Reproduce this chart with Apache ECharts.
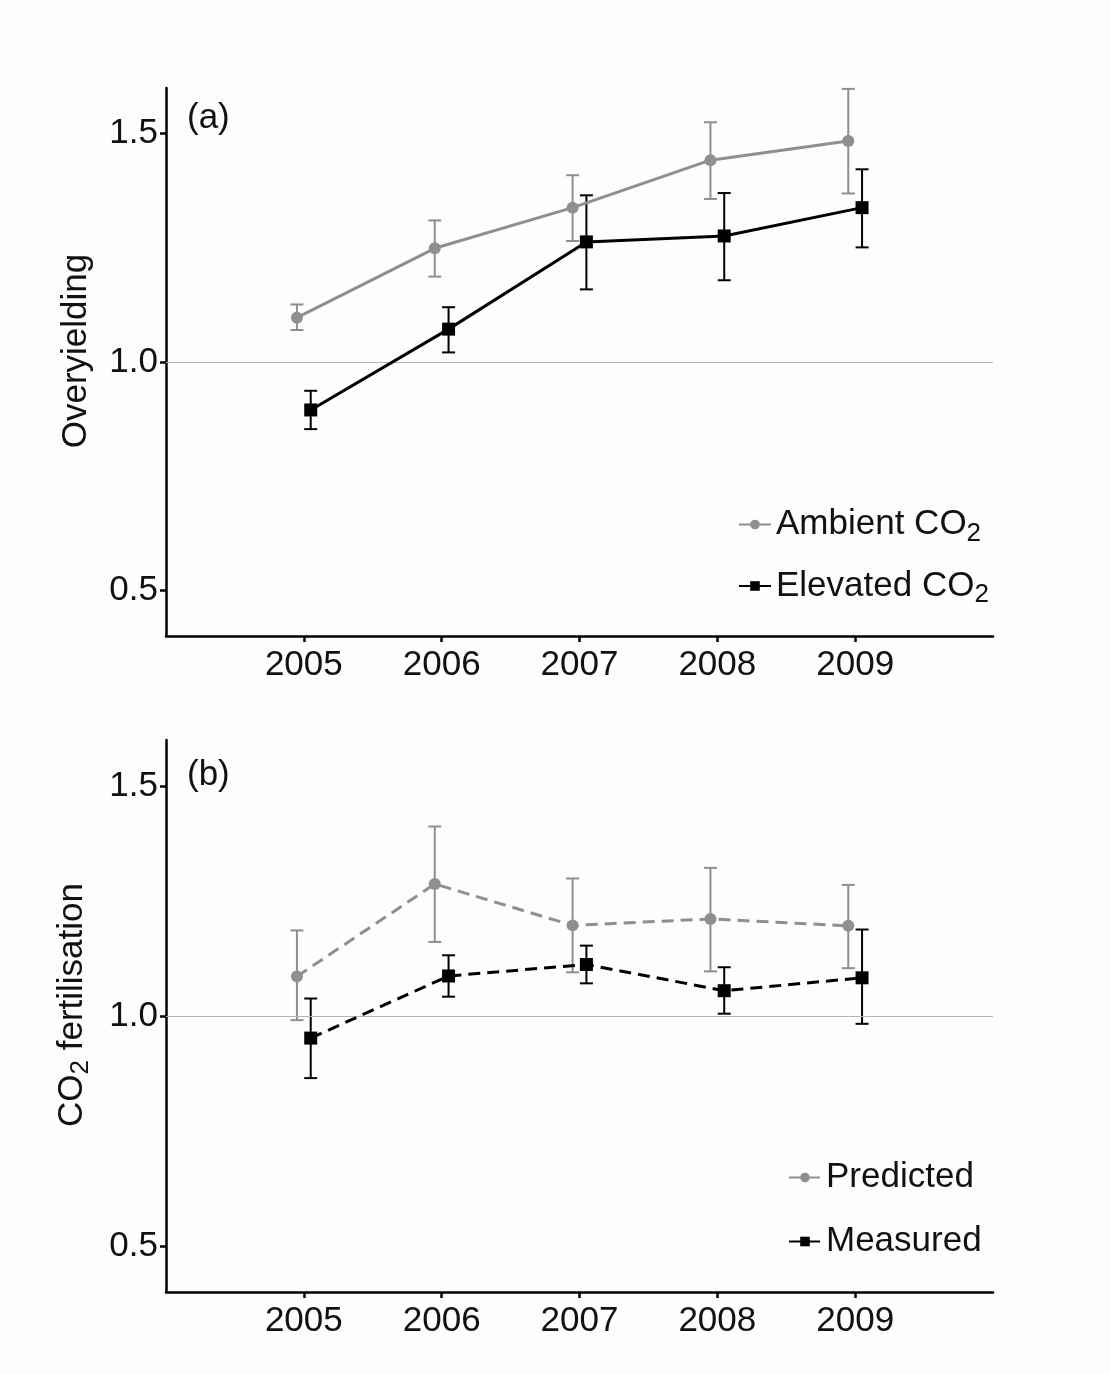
<!DOCTYPE html>
<html>

	<head>
		<meta charset="utf-8">
		<title>Overyielding and CO2 fertilisation</title>
		<script src="https://cdn.jsdelivr.net/npm/echarts@6/dist/echarts.min.js"></script>
	</head>

	<body style="margin:0;background:#fdfdfd;">
		<div id="res" style="width: 1110px;height: 1374px;"></div>
		<script>
			var years = [2005, 2006, 2007, 2008, 2009];
			var dodge = 0.05;

			// panel (a)
			var ambient = [1.097, 1.249, 1.338, 1.442, 1.484];
			var ambientLo = [1.070, 1.187, 1.265, 1.357, 1.369];
			var ambientHi = [1.126, 1.310, 1.409, 1.525, 1.598];
			var elevated = [0.895, 1.072, 1.263, 1.276, 1.338];
			var elevatedLo = [0.853, 1.021, 1.159, 1.179, 1.251];
			var elevatedHi = [0.937, 1.120, 1.365, 1.370, 1.422];

			// panel (b)
			var predicted = [1.086, 1.287, 1.197, 1.211, 1.196];
			var predictedLo = [0.991, 1.161, 1.095, 1.097, 1.104];
			var predictedHi = [1.186, 1.412, 1.299, 1.322, 1.285];
			var measured = [0.952, 1.087, 1.112, 1.055, 1.083];
			var measuredLo = [0.865, 1.042, 1.071, 1.005, 0.983];
			var measuredHi = [1.038, 1.132, 1.153, 1.106, 1.188];

			var yTicks = [0.5, 1.0, 1.5];
			var GREY = '#8f8f8f';
			var FONT = 'Liberation Sans';

			function pts(vals, off) {
				var out = [];
				for(var i = 0; i < years.length; i++) {
					out.push([years[i] + off, vals[i]]);
				}
				return out;
			}

			function bars(lo, hi, off) {
				var out = [];
				for(var i = 0; i < years.length; i++) {
					out.push([years[i] + off, lo[i], hi[i]]);
				}
				return out;
			}

			function errRender(color) {
				return function(params, api) {
					var x = api.value(0);
					var a = api.coord([x, api.value(1)]);
					var b = api.coord([x, api.value(2)]);
					var w = 6.5;
					var st = { stroke: color, lineWidth: 2 };
					return {
						type: 'group',
						children: [
							{ type: 'line', shape: { x1: a[0], y1: a[1], x2: b[0], y2: b[1] }, style: st },
							{ type: 'line', shape: { x1: a[0] - w, y1: a[1], x2: a[0] + w, y2: a[1] }, style: st },
							{ type: 'line', shape: { x1: b[0] - w, y1: b[1], x2: b[0] + w, y2: b[1] }, style: st }
						]
					};
				};
			}

			function xAxis(idx) {
				return {
					type: 'value', gridIndex: idx, min: 2004, max: 2010,
					splitLine: { show: false },
					axisLine: { lineStyle: { color: '#000', width: 2.5 } },
					axisTick: { customValues: years, length: 6, lineStyle: { color: '#000', width: 2.5 } },
					axisLabel: {
						customValues: years, formatter: function(v) { return String(v); },
						fontSize: 35, color: '#111', fontFamily: FONT, margin: 12
					}
				};
			}

			var subRich = { s: { fontSize: 26, fontFamily: FONT, color: '#111', padding: [18, 0, 0, 0] } };

			function yAxis(idx, name) {
				return {
					type: 'value', gridIndex: idx, min: 0.4, max: 1.6,
					name: name, nameLocation: 'middle', nameGap: 72,
					nameTextStyle: {
						fontSize: 35, color: '#111', fontFamily: FONT,
						padding: [0, 0, 0, 22], rich: subRich
					},
					splitLine: { show: false },
					axisLine: { show: true, lineStyle: { color: '#000', width: 2.5 } },
					axisTick: { show: true, customValues: yTicks, length: 6, lineStyle: { color: '#000', width: 2.5 } },
					axisLabel: {
						customValues: yTicks, formatter: function(v) { return v.toFixed(1); },
						fontSize: 35, color: '#111', fontFamily: FONT, margin: 8
					}
				};
			}

			function refLine() {
				return {
					silent: true, symbol: 'none', label: { show: false },
					lineStyle: { color: '#b5b5b5', width: 1.2, type: 'solid' },
					data: [{ yAxis: 1.0 }]
				};
			}

			function lineSeries(name, idx, vals, off, color, symbol, dashed, withRef) {
				var s = {
					name: name, type: 'line', xAxisIndex: idx, yAxisIndex: idx,
					data: pts(vals, off), symbol: symbol, symbolSize: symbol == 'rect' ? 13 : 12,
					itemStyle: { color: color },
					lineStyle: { color: color, width: 3, type: dashed ? [12, 7] : 'solid' },
					z: 5
				};
				if(withRef) s.markLine = refLine();
				return s;
			}

			function errSeries(idx, lo, hi, off, color) {
				return {
					type: 'custom', xAxisIndex: idx, yAxisIndex: idx,
					renderItem: errRender(color), data: bars(lo, hi, off), z: 4,
					encode: { x: 0, y: [1, 2] }
				};
			}

			var myChart = echarts.init(document.getElementById('res'));
			var option = {
				backgroundColor: '#fdfdfd',
				animation: false,
				title: [
					{ text: '(a)', left: 182, top: 96, textStyle: { fontSize: 35, fontWeight: 'normal', color: '#111', fontFamily: FONT } },
					{ text: '(b)', left: 182, top: 753, textStyle: { fontSize: 35, fontWeight: 'normal', color: '#111', fontFamily: FONT } }
				],
				grid: [
					{ left: 166, top: 88, width: 827, height: 548 },
					{ left: 166, top: 740, width: 827, height: 552 }
				],
				legend: [
					{
						data: ['Ambient', 'Elevated'], orient: 'vertical', left: 733, top: 502,
						itemWidth: 32, itemHeight: 12, itemGap: 22,
						formatter: function(n) { return n + ' CO{s|2}'; },
						textStyle: { fontSize: 35, color: '#111', fontFamily: FONT, rich: subRich }
					},
					{
						data: ['Predicted', 'Measured'], orient: 'vertical', left: 783, top: 1155,
						itemWidth: 32, itemHeight: 12, itemGap: 29,
						textStyle: { fontSize: 35, color: '#111', fontFamily: FONT }
					}
				],
				xAxis: [xAxis(0), xAxis(1)],
				yAxis: [yAxis(0, 'Overyielding'), yAxis(1, 'CO{s|2} fertilisation')],
				series: [
					errSeries(0, ambientLo, ambientHi, -dodge, GREY),
					errSeries(0, elevatedLo, elevatedHi, dodge, '#000'),
					lineSeries('Ambient', 0, ambient, -dodge, GREY, 'circle', false, true),
					lineSeries('Elevated', 0, elevated, dodge, '#000', 'rect', false, false),
					errSeries(1, predictedLo, predictedHi, -dodge, GREY),
					errSeries(1, measuredLo, measuredHi, dodge, '#000'),
					lineSeries('Predicted', 1, predicted, -dodge, GREY, 'circle', true, true),
					lineSeries('Measured', 1, measured, dodge, '#000', 'rect', true, false)
				]
			};
			myChart.setOption(option);
		</script>
	</body>

</html>
